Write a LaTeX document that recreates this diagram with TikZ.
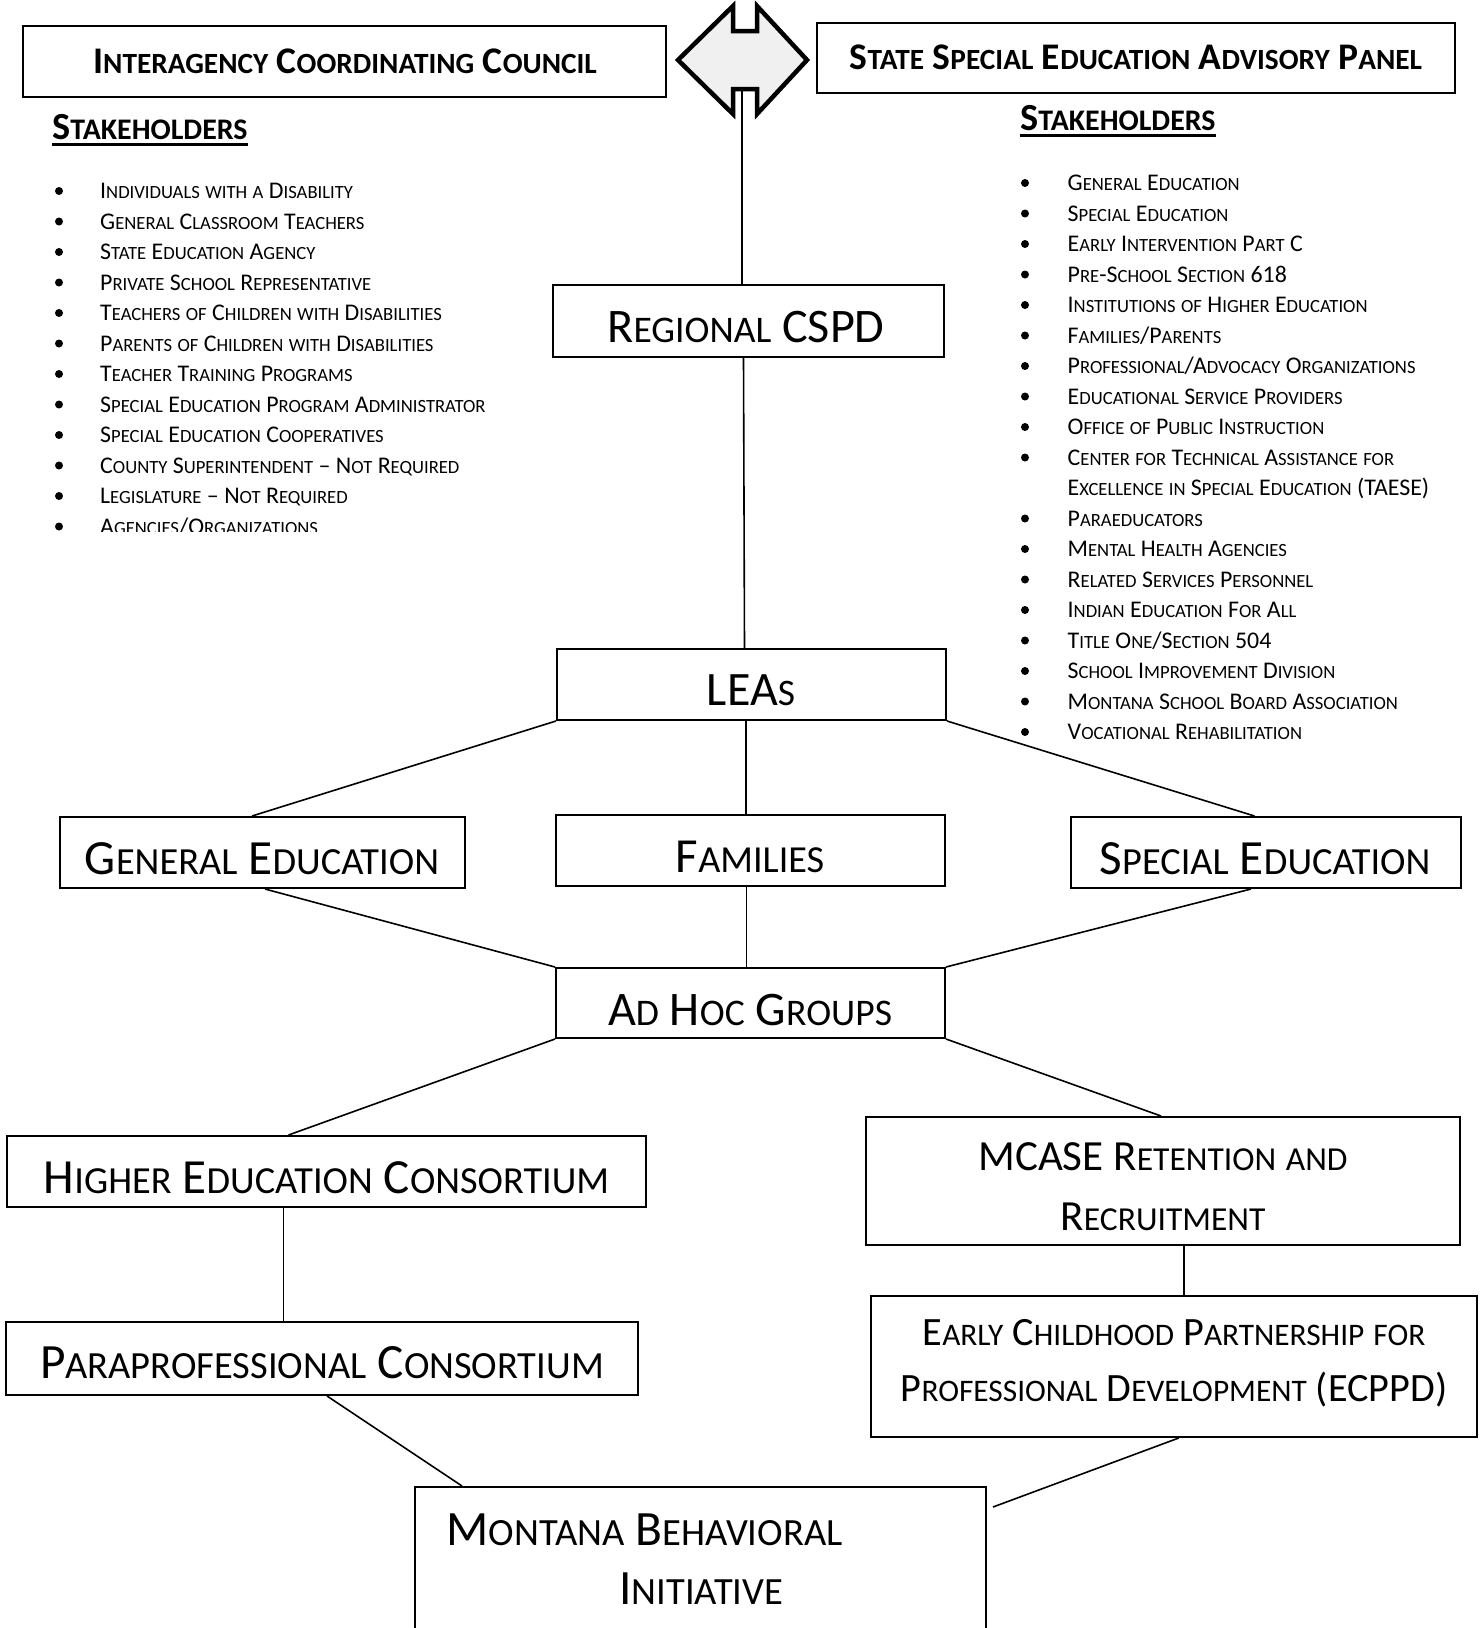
\documentclass[tikz,border=0pt]{standalone}
\usepackage{fontspec}
\setmainfont{Carlito}
\makeatletter
\newcommand\fscsmall{\fontsize{\fpeval{0.78*\f@size}}{\f@baselineskip}\selectfont}
\makeatother
\ExplSyntaxOn
\seq_new:N \l__fsc_words_seq
\cs_new_protected:Npn \__fsc_char:N #1
  {
    \bool_lazy_and:nnTF
      { \int_compare_p:nNn { `#1 } > { 96 } }
      { \int_compare_p:nNn { `#1 } < { 123 } }
      { { \fscsmall \text_uppercase:n {#1} } }
      { #1 }
  }
\NewDocumentCommand \fsc { m }
  {
    \seq_set_split:Nnn \l__fsc_words_seq { ~ } { #1 }
    \seq_map_indexed_inline:Nn \l__fsc_words_seq
      {
        \int_compare:nNnT { ##1 } > { 1 } { \c_space_tl }
        \tl_map_function:nN { ##2 } \__fsc_char:N
      }
  }
\ExplSyntaxOff
\usetikzlibrary{calc}
\newcommand\fsz[1]{\fontsize{#1}{#1}\selectfont}
\begin{document}
\begin{tikzpicture}[x=1pt,y=-1pt,
  box/.style={draw, line width=2pt, rectangle, inner sep=0pt},
  conn/.style={line width=1.6pt},
  lbl/.style={anchor=base, inner sep=0pt, font=\fsz{#1}},
  lbl/.default=49,
  lblw/.style={anchor=base west, inner sep=0pt, font=\fsz{#1}},
  lblw/.default=49,
  itemtxt/.style={anchor=base west, inner sep=0pt, font=\fsz{23.9}},
  hdr/.style={anchor=base, inner sep=0pt, font=\fsz{37.6}\bfseries},
  hdrw/.style={anchor=base west, inner sep=0pt, font=\fsz{38.3}\bfseries},
  bul/.style={circle, fill=black, inner sep=0pt, minimum size=8pt},
  arrowshape/.style={draw, line width=4.5pt, fill=black!6, line join=miter}
]
\useasboundingbox (0,0) rectangle (1482,1628);

% top boxes
\node[box, minimum width=643pt, minimum height=71pt] (icc) at (344.5,61.5) {};
\node[hdr] (icc-t) at (345,73) {\fsc{Interagency Coordinating Council}};
\node[box, minimum width=638pt, minimum height=70pt] (ssap) at (1136,58) {};
\node[hdr] (ssap-t) at (1136,69) {\fsc{State Special Education Advisory Panel}};

% double arrow
\draw[arrowshape] (678,60) -- (733,6) -- (733,31) -- (757,31) -- (757,6) -- (807,60)
  -- (757,114) -- (757,89) -- (733,89) -- (733,114) -- cycle;
\coordinate (arrb) at (742,89);

% stakeholders headers
\node[hdrw] (lsh) at (52,139) {\fsc{Stakeholders}};
\draw[line width=3pt] ([yshift=-5pt]lsh.base west) -- ([yshift=-5pt]lsh.base east);
\node[hdrw] (rsh) at (1020,130) {\fsc{Stakeholders}};
\draw[line width=3pt] ([yshift=-5pt]rsh.base west) -- ([yshift=-5pt]rsh.base east);

% left list
\begin{scope}
\clip (0,145) rectangle (720,531);
\foreach \itm [count=\i from 0] in {Individuals with a Disability,General Classroom Teachers,State Education Agency,Private School Representative,Teachers of Children with Disabilities,Parents of Children with Disabilities,Teacher Training Programs,Special Education Program Administrator,Special Education Cooperatives,County Superintendent – Not Required,Legislature – Not Required,Agencies/Organizations}{
  \node[bul] (lb\i) at (59,{191+30.5*\i}) {};
  \node[itemtxt] (li\i) at (100,{198.5+30.5*\i}) {\expandafter\fsc\expandafter{\itm}};
}
\end{scope}

% right list
\foreach \itm [count=\i from 0] in {General Education,Special Education,Early Intervention Part C,Pre-School Section 618,Institutions of Higher Education,Families/Parents,Professional/Advocacy Organizations,Educational Service Providers,Office of Public Instruction,Center for Technical Assistance for,Excellence in Special Education (TAESE),Paraeducators,Mental Health Agencies,Related Services Personnel,Indian Education For All,Title One/Section 504,School Improvement Division,Montana School Board Association,Vocational Rehabilitation}{
  \ifnum\i=10\relax\else\node[bul] (rb\i) at (1025,{183+30.5*\i}) {};\fi
  \node[itemtxt] (ri\i) at (1067.5,{190.5+30.5*\i}) {\expandafter\fsc\expandafter{\itm}};
}

% chart boxes
\node[box, minimum width=391pt, minimum height=72pt] (reg) at (748.5,321) {};
\node[lbl=48.2] (reg-t) at (746,342.5) {\fsc{Regional CSPD}};
\node[box, minimum width=389pt, minimum height=71pt] (leas) at (751.5,684.5) {};
\node[lbl=48] (leas-t) at (751,705.5) {\fsc{LEAs}};
\node[box, minimum width=405pt, minimum height=71pt] (gen) at (262.5,852.5) {};
\node[lbl=49.2] (gen-t) at (262,874.5) {\fsc{General Education}};
\node[box, minimum width=389pt, minimum height=71pt] (fam) at (750.5,850.5) {};
\node[lbl=49] (fam-t) at (750,872.5) {\fsc{Families}};
\node[box, minimum width=390pt, minimum height=71pt] (spec) at (1266,852.5) {};
\node[lbl=49.2] (spec-t) at (1265,874.5) {\fsc{Special Education}};
\node[box, minimum width=389pt, minimum height=70pt] (adhoc) at (750.5,1003) {};
\node[lbl=48.2] (adhoc-t) at (750,1025) {\fsc{Ad Hoc Groups}};
\node[box, minimum width=639pt, minimum height=71pt] (hec) at (326.5,1171.5) {};
\node[lbl=49.1] (hec-t) at (326.5,1193.5) {\fsc{Higher Education Consortium}};
\node[box, minimum width=594pt, minimum height=128pt] (mcase) at (1163,1181) {};
\node[lbl=43] (mcase-t1) at (1163,1170) {\fsc{MCASE Retention and}};
\node[lbl=43] (mcase-t2) at (1163,1230) {\fsc{Recruitment}};
\node[box, minimum width=632pt, minimum height=73pt] (para) at (322,1358.5) {};
\node[lbl=49.3] (para-t) at (322,1378) {\fsc{Paraprofessional Consortium}};
\node[box, minimum width=606pt, minimum height=141pt] (ecppd) at (1174,1366.5) {};
\node[lbl=40.2] (ecppd-t1) at (1174,1345) {\fsc{Early Childhood Partnership for}};
\node[lbl=40.2] (ecppd-t2) at (1174,1401) {\fsc{Professional Development (ECPPD)}};
\node[box, minimum width=571pt, minimum height=163pt] (mbi) at (700.5,1568.5) {};
\node[lblw=49.4] (mbi-t1) at (446.5,1545) {\fsc{Montana Behavioral}};
\node[lblw=49.4] (mbi-t2) at (619,1604) {\fsc{Initiative}};

% connectors
\draw[conn] (arrb) -- ([xshift=-6.5pt]reg.north);
\draw[conn] ([xshift=-5pt]reg.south) -- ([xshift=-7pt]leas.north);
\draw[conn] (leas.south west) -- ([xshift=-10.5pt]gen.north);
\draw[conn] ([xshift=-5.5pt]leas.south) -- ([xshift=-4.5pt]fam.north);
\draw[conn] (leas.south east) -- ([xshift=-11.5pt]spec.north);
\draw[conn] ([xshift=2.5pt]gen.south) -- (adhoc.north west);
\draw[conn] ([xshift=-4pt]fam.south) -- ([xshift=-4pt]adhoc.north);
\draw[conn] ([xshift=-15pt]spec.south) -- (adhoc.north east);
\draw[conn] (adhoc.south west) -- ([xshift=-38pt]hec.north);
\draw[conn] (adhoc.south east) -- ([xshift=-2pt]mcase.north);
\draw[conn] ([xshift=-43pt]hec.south) -- ([xshift=-38.5pt]para.north);
\draw[conn] ([xshift=21pt]mcase.south) -- ([xshift=10pt]ecppd.north);
\draw[conn] ([xshift=5pt]para.south) -- ([xshift=-238.5pt]mbi.north);
\coordinate (mbiend) at ([xshift=6pt,yshift=-21pt]mbi.north east);
\draw[conn] ([xshift=4.7pt]ecppd.south) -- (mbiend);
\end{tikzpicture}
\end{document}
